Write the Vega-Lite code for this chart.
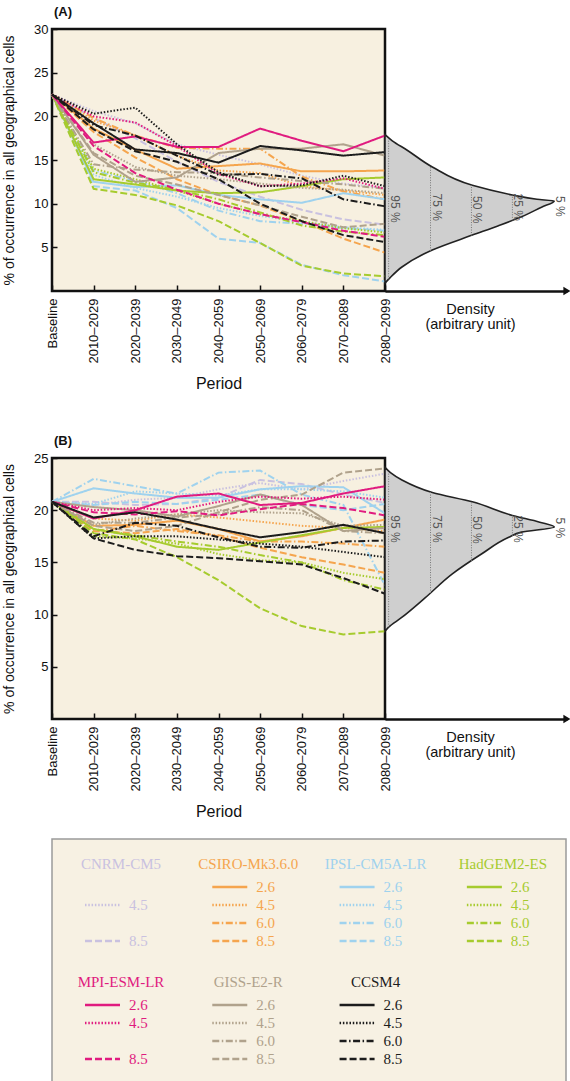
{
"$schema":"https://vega.github.io/schema/vega-lite/v6.json",
"padding":{"left":0,"top":4,"right":0,"bottom":0},
"background":"white",
"config":{"font":"Liberation Sans","axis":{"labelFont":"Liberation Sans","titleFont":"Liberation Sans","labelColor":"#111","titleColor":"#111","grid":false},"title":{"font":"Liberation Sans","color":"#111"}},
"datasets":{
"seriesA":[
{"model":"CNRM-CM5","rcp":"4.5","period":"Baseline","pct":22.5},{"model":"CNRM-CM5","rcp":"4.5","period":"2010–2029","pct":20.6},{"model":"CNRM-CM5","rcp":"4.5","period":"2020–2039","pct":19.2},{"model":"CNRM-CM5","rcp":"4.5","period":"2030–2049","pct":16.8},{"model":"CNRM-CM5","rcp":"4.5","period":"2040–2059","pct":15.6},{"model":"CNRM-CM5","rcp":"4.5","period":"2050–2069","pct":14.5},{"model":"CNRM-CM5","rcp":"4.5","period":"2060–2079","pct":13.2},{"model":"CNRM-CM5","rcp":"4.5","period":"2070–2089","pct":12.3},{"model":"CNRM-CM5","rcp":"4.5","period":"2080–2099","pct":11.8},
{"model":"CNRM-CM5","rcp":"8.5","period":"Baseline","pct":22.5},{"model":"CNRM-CM5","rcp":"8.5","period":"2010–2029","pct":19.8},{"model":"CNRM-CM5","rcp":"8.5","period":"2020–2039","pct":17.5},{"model":"CNRM-CM5","rcp":"8.5","period":"2030–2049","pct":14.8},{"model":"CNRM-CM5","rcp":"8.5","period":"2040–2059","pct":12.5},{"model":"CNRM-CM5","rcp":"8.5","period":"2050–2069","pct":10.8},{"model":"CNRM-CM5","rcp":"8.5","period":"2060–2079","pct":9.3},{"model":"CNRM-CM5","rcp":"8.5","period":"2070–2089","pct":8.2},{"model":"CNRM-CM5","rcp":"8.5","period":"2080–2099","pct":7.6},
{"model":"CSIRO-Mk3.6.0","rcp":"2.6","period":"Baseline","pct":22.5},{"model":"CSIRO-Mk3.6.0","rcp":"2.6","period":"2010–2029","pct":18.6},{"model":"CSIRO-Mk3.6.0","rcp":"2.6","period":"2020–2039","pct":16.2},{"model":"CSIRO-Mk3.6.0","rcp":"2.6","period":"2030–2049","pct":14.0},{"model":"CSIRO-Mk3.6.0","rcp":"2.6","period":"2040–2059","pct":14.3},{"model":"CSIRO-Mk3.6.0","rcp":"2.6","period":"2050–2069","pct":14.6},{"model":"CSIRO-Mk3.6.0","rcp":"2.6","period":"2060–2079","pct":13.7},{"model":"CSIRO-Mk3.6.0","rcp":"2.6","period":"2070–2089","pct":13.7},{"model":"CSIRO-Mk3.6.0","rcp":"2.6","period":"2080–2099","pct":13.8},
{"model":"CSIRO-Mk3.6.0","rcp":"4.5","period":"Baseline","pct":22.5},{"model":"CSIRO-Mk3.6.0","rcp":"4.5","period":"2010–2029","pct":19.5},{"model":"CSIRO-Mk3.6.0","rcp":"4.5","period":"2020–2039","pct":17.8},{"model":"CSIRO-Mk3.6.0","rcp":"4.5","period":"2030–2049","pct":15.5},{"model":"CSIRO-Mk3.6.0","rcp":"4.5","period":"2040–2059","pct":13.8},{"model":"CSIRO-Mk3.6.0","rcp":"4.5","period":"2050–2069","pct":13.5},{"model":"CSIRO-Mk3.6.0","rcp":"4.5","period":"2060–2079","pct":12.0},{"model":"CSIRO-Mk3.6.0","rcp":"4.5","period":"2070–2089","pct":11.5},{"model":"CSIRO-Mk3.6.0","rcp":"4.5","period":"2080–2099","pct":11.0},
{"model":"CSIRO-Mk3.6.0","rcp":"6.0","period":"Baseline","pct":22.5},{"model":"CSIRO-Mk3.6.0","rcp":"6.0","period":"2010–2029","pct":19.8},{"model":"CSIRO-Mk3.6.0","rcp":"6.0","period":"2020–2039","pct":17.8},{"model":"CSIRO-Mk3.6.0","rcp":"6.0","period":"2030–2049","pct":16.4},{"model":"CSIRO-Mk3.6.0","rcp":"6.0","period":"2040–2059","pct":16.3},{"model":"CSIRO-Mk3.6.0","rcp":"6.0","period":"2050–2069","pct":16.3},{"model":"CSIRO-Mk3.6.0","rcp":"6.0","period":"2060–2079","pct":13.1},{"model":"CSIRO-Mk3.6.0","rcp":"6.0","period":"2070–2089","pct":11.4},{"model":"CSIRO-Mk3.6.0","rcp":"6.0","period":"2080–2099","pct":10.5},
{"model":"CSIRO-Mk3.6.0","rcp":"8.5","period":"Baseline","pct":22.5},{"model":"CSIRO-Mk3.6.0","rcp":"8.5","period":"2010–2029","pct":18.2},{"model":"CSIRO-Mk3.6.0","rcp":"8.5","period":"2020–2039","pct":15.3},{"model":"CSIRO-Mk3.6.0","rcp":"8.5","period":"2030–2049","pct":12.8},{"model":"CSIRO-Mk3.6.0","rcp":"8.5","period":"2040–2059","pct":11.0},{"model":"CSIRO-Mk3.6.0","rcp":"8.5","period":"2050–2069","pct":9.8},{"model":"CSIRO-Mk3.6.0","rcp":"8.5","period":"2060–2079","pct":8.0},{"model":"CSIRO-Mk3.6.0","rcp":"8.5","period":"2070–2089","pct":6.0},{"model":"CSIRO-Mk3.6.0","rcp":"8.5","period":"2080–2099","pct":4.4},
{"model":"IPSL-CM5A-LR","rcp":"2.6","period":"Baseline","pct":22.5},{"model":"IPSL-CM5A-LR","rcp":"2.6","period":"2010–2029","pct":12.5},{"model":"IPSL-CM5A-LR","rcp":"2.6","period":"2020–2039","pct":11.9},{"model":"IPSL-CM5A-LR","rcp":"2.6","period":"2030–2049","pct":12.1},{"model":"IPSL-CM5A-LR","rcp":"2.6","period":"2040–2059","pct":11.0},{"model":"IPSL-CM5A-LR","rcp":"2.6","period":"2050–2069","pct":10.5},{"model":"IPSL-CM5A-LR","rcp":"2.6","period":"2060–2079","pct":10.1},{"model":"IPSL-CM5A-LR","rcp":"2.6","period":"2070–2089","pct":11.2},{"model":"IPSL-CM5A-LR","rcp":"2.6","period":"2080–2099","pct":10.5},
{"model":"IPSL-CM5A-LR","rcp":"4.5","period":"Baseline","pct":22.5},{"model":"IPSL-CM5A-LR","rcp":"4.5","period":"2010–2029","pct":13.3},{"model":"IPSL-CM5A-LR","rcp":"4.5","period":"2020–2039","pct":11.8},{"model":"IPSL-CM5A-LR","rcp":"4.5","period":"2030–2049","pct":10.8},{"model":"IPSL-CM5A-LR","rcp":"4.5","period":"2040–2059","pct":9.5},{"model":"IPSL-CM5A-LR","rcp":"4.5","period":"2050–2069","pct":8.6},{"model":"IPSL-CM5A-LR","rcp":"4.5","period":"2060–2079","pct":7.9},{"model":"IPSL-CM5A-LR","rcp":"4.5","period":"2070–2089","pct":7.3},{"model":"IPSL-CM5A-LR","rcp":"4.5","period":"2080–2099","pct":7.0},
{"model":"IPSL-CM5A-LR","rcp":"6.0","period":"Baseline","pct":22.5},{"model":"IPSL-CM5A-LR","rcp":"6.0","period":"2010–2029","pct":13.8},{"model":"IPSL-CM5A-LR","rcp":"6.0","period":"2020–2039","pct":12.6},{"model":"IPSL-CM5A-LR","rcp":"6.0","period":"2030–2049","pct":11.2},{"model":"IPSL-CM5A-LR","rcp":"6.0","period":"2040–2059","pct":9.2},{"model":"IPSL-CM5A-LR","rcp":"6.0","period":"2050–2069","pct":8.0},{"model":"IPSL-CM5A-LR","rcp":"6.0","period":"2060–2079","pct":7.7},{"model":"IPSL-CM5A-LR","rcp":"6.0","period":"2070–2089","pct":7.2},{"model":"IPSL-CM5A-LR","rcp":"6.0","period":"2080–2099","pct":6.9},
{"model":"IPSL-CM5A-LR","rcp":"8.5","period":"Baseline","pct":22.5},{"model":"IPSL-CM5A-LR","rcp":"8.5","period":"2010–2029","pct":12.0},{"model":"IPSL-CM5A-LR","rcp":"8.5","period":"2020–2039","pct":11.5},{"model":"IPSL-CM5A-LR","rcp":"8.5","period":"2030–2049","pct":9.5},{"model":"IPSL-CM5A-LR","rcp":"8.5","period":"2040–2059","pct":6.0},{"model":"IPSL-CM5A-LR","rcp":"8.5","period":"2050–2069","pct":5.5},{"model":"IPSL-CM5A-LR","rcp":"8.5","period":"2060–2079","pct":3.0},{"model":"IPSL-CM5A-LR","rcp":"8.5","period":"2070–2089","pct":1.8},{"model":"IPSL-CM5A-LR","rcp":"8.5","period":"2080–2099","pct":1.1},
{"model":"HadGEM2-ES","rcp":"2.6","period":"Baseline","pct":22.5},{"model":"HadGEM2-ES","rcp":"2.6","period":"2010–2029","pct":12.8},{"model":"HadGEM2-ES","rcp":"2.6","period":"2020–2039","pct":12.2},{"model":"HadGEM2-ES","rcp":"2.6","period":"2030–2049","pct":11.5},{"model":"HadGEM2-ES","rcp":"2.6","period":"2040–2059","pct":11.2},{"model":"HadGEM2-ES","rcp":"2.6","period":"2050–2069","pct":11.3},{"model":"HadGEM2-ES","rcp":"2.6","period":"2060–2079","pct":12.0},{"model":"HadGEM2-ES","rcp":"2.6","period":"2070–2089","pct":12.8},{"model":"HadGEM2-ES","rcp":"2.6","period":"2080–2099","pct":13.0},
{"model":"HadGEM2-ES","rcp":"4.5","period":"Baseline","pct":22.5},{"model":"HadGEM2-ES","rcp":"4.5","period":"2010–2029","pct":14.0},{"model":"HadGEM2-ES","rcp":"4.5","period":"2020–2039","pct":12.8},{"model":"HadGEM2-ES","rcp":"4.5","period":"2030–2049","pct":11.5},{"model":"HadGEM2-ES","rcp":"4.5","period":"2040–2059","pct":10.0},{"model":"HadGEM2-ES","rcp":"4.5","period":"2050–2069","pct":8.8},{"model":"HadGEM2-ES","rcp":"4.5","period":"2060–2079","pct":8.0},{"model":"HadGEM2-ES","rcp":"4.5","period":"2070–2089","pct":7.2},{"model":"HadGEM2-ES","rcp":"4.5","period":"2080–2099","pct":6.7},
{"model":"HadGEM2-ES","rcp":"6.0","period":"Baseline","pct":22.5},{"model":"HadGEM2-ES","rcp":"6.0","period":"2010–2029","pct":13.6},{"model":"HadGEM2-ES","rcp":"6.0","period":"2020–2039","pct":12.4},{"model":"HadGEM2-ES","rcp":"6.0","period":"2030–2049","pct":11.6},{"model":"HadGEM2-ES","rcp":"6.0","period":"2040–2059","pct":10.5},{"model":"HadGEM2-ES","rcp":"6.0","period":"2050–2069","pct":9.0},{"model":"HadGEM2-ES","rcp":"6.0","period":"2060–2079","pct":7.5},{"model":"HadGEM2-ES","rcp":"6.0","period":"2070–2089","pct":6.8},{"model":"HadGEM2-ES","rcp":"6.0","period":"2080–2099","pct":6.4},
{"model":"HadGEM2-ES","rcp":"8.5","period":"Baseline","pct":22.5},{"model":"HadGEM2-ES","rcp":"8.5","period":"2010–2029","pct":11.7},{"model":"HadGEM2-ES","rcp":"8.5","period":"2020–2039","pct":11.0},{"model":"HadGEM2-ES","rcp":"8.5","period":"2030–2049","pct":9.8},{"model":"HadGEM2-ES","rcp":"8.5","period":"2040–2059","pct":8.0},{"model":"HadGEM2-ES","rcp":"8.5","period":"2050–2069","pct":5.5},{"model":"HadGEM2-ES","rcp":"8.5","period":"2060–2079","pct":2.9},{"model":"HadGEM2-ES","rcp":"8.5","period":"2070–2089","pct":2.0},{"model":"HadGEM2-ES","rcp":"8.5","period":"2080–2099","pct":1.7},
{"model":"GISS-E2-R","rcp":"2.6","period":"Baseline","pct":22.5},{"model":"GISS-E2-R","rcp":"2.6","period":"2010–2029","pct":15.6},{"model":"GISS-E2-R","rcp":"2.6","period":"2020–2039","pct":12.5},{"model":"GISS-E2-R","rcp":"2.6","period":"2030–2049","pct":13.0},{"model":"GISS-E2-R","rcp":"2.6","period":"2040–2059","pct":15.8},{"model":"GISS-E2-R","rcp":"2.6","period":"2050–2069","pct":16.3},{"model":"GISS-E2-R","rcp":"2.6","period":"2060–2079","pct":16.3},{"model":"GISS-E2-R","rcp":"2.6","period":"2070–2089","pct":16.8},{"model":"GISS-E2-R","rcp":"2.6","period":"2080–2099","pct":15.5},
{"model":"GISS-E2-R","rcp":"4.5","period":"Baseline","pct":22.5},{"model":"GISS-E2-R","rcp":"4.5","period":"2010–2029","pct":16.8},{"model":"GISS-E2-R","rcp":"4.5","period":"2020–2039","pct":14.2},{"model":"GISS-E2-R","rcp":"4.5","period":"2030–2049","pct":13.2},{"model":"GISS-E2-R","rcp":"4.5","period":"2040–2059","pct":12.8},{"model":"GISS-E2-R","rcp":"4.5","period":"2050–2069","pct":12.3},{"model":"GISS-E2-R","rcp":"4.5","period":"2060–2079","pct":11.8},{"model":"GISS-E2-R","rcp":"4.5","period":"2070–2089","pct":11.6},{"model":"GISS-E2-R","rcp":"4.5","period":"2080–2099","pct":11.2},
{"model":"GISS-E2-R","rcp":"6.0","period":"Baseline","pct":22.5},{"model":"GISS-E2-R","rcp":"6.0","period":"2010–2029","pct":14.5},{"model":"GISS-E2-R","rcp":"6.0","period":"2020–2039","pct":13.9},{"model":"GISS-E2-R","rcp":"6.0","period":"2030–2049","pct":13.6},{"model":"GISS-E2-R","rcp":"6.0","period":"2040–2059","pct":13.5},{"model":"GISS-E2-R","rcp":"6.0","period":"2050–2069","pct":13.0},{"model":"GISS-E2-R","rcp":"6.0","period":"2060–2079","pct":12.6},{"model":"GISS-E2-R","rcp":"6.0","period":"2070–2089","pct":12.2},{"model":"GISS-E2-R","rcp":"6.0","period":"2080–2099","pct":11.7},
{"model":"GISS-E2-R","rcp":"8.5","period":"Baseline","pct":22.5},{"model":"GISS-E2-R","rcp":"8.5","period":"2010–2029","pct":15.8},{"model":"GISS-E2-R","rcp":"8.5","period":"2020–2039","pct":13.2},{"model":"GISS-E2-R","rcp":"8.5","period":"2030–2049","pct":12.2},{"model":"GISS-E2-R","rcp":"8.5","period":"2040–2059","pct":11.0},{"model":"GISS-E2-R","rcp":"8.5","period":"2050–2069","pct":9.8},{"model":"GISS-E2-R","rcp":"8.5","period":"2060–2079","pct":8.5},{"model":"GISS-E2-R","rcp":"8.5","period":"2070–2089","pct":7.3},{"model":"GISS-E2-R","rcp":"8.5","period":"2080–2099","pct":7.7},
{"model":"MPI-ESM-LR","rcp":"2.6","period":"Baseline","pct":22.5},{"model":"MPI-ESM-LR","rcp":"2.6","period":"2010–2029","pct":17.0},{"model":"MPI-ESM-LR","rcp":"2.6","period":"2020–2039","pct":17.7},{"model":"MPI-ESM-LR","rcp":"2.6","period":"2030–2049","pct":16.5},{"model":"MPI-ESM-LR","rcp":"2.6","period":"2040–2059","pct":16.5},{"model":"MPI-ESM-LR","rcp":"2.6","period":"2050–2069","pct":18.6},{"model":"MPI-ESM-LR","rcp":"2.6","period":"2060–2079","pct":17.2},{"model":"MPI-ESM-LR","rcp":"2.6","period":"2070–2089","pct":16.0},{"model":"MPI-ESM-LR","rcp":"2.6","period":"2080–2099","pct":17.8},
{"model":"MPI-ESM-LR","rcp":"4.5","period":"Baseline","pct":22.5},{"model":"MPI-ESM-LR","rcp":"4.5","period":"2010–2029","pct":20.0},{"model":"MPI-ESM-LR","rcp":"4.5","period":"2020–2039","pct":19.3},{"model":"MPI-ESM-LR","rcp":"4.5","period":"2030–2049","pct":16.6},{"model":"MPI-ESM-LR","rcp":"4.5","period":"2040–2059","pct":13.4},{"model":"MPI-ESM-LR","rcp":"4.5","period":"2050–2069","pct":12.0},{"model":"MPI-ESM-LR","rcp":"4.5","period":"2060–2079","pct":12.3},{"model":"MPI-ESM-LR","rcp":"4.5","period":"2070–2089","pct":12.9},{"model":"MPI-ESM-LR","rcp":"4.5","period":"2080–2099","pct":11.7},
{"model":"MPI-ESM-LR","rcp":"8.5","period":"Baseline","pct":22.5},{"model":"MPI-ESM-LR","rcp":"8.5","period":"2010–2029","pct":16.6},{"model":"MPI-ESM-LR","rcp":"8.5","period":"2020–2039","pct":13.5},{"model":"MPI-ESM-LR","rcp":"8.5","period":"2030–2049","pct":11.6},{"model":"MPI-ESM-LR","rcp":"8.5","period":"2040–2059","pct":10.0},{"model":"MPI-ESM-LR","rcp":"8.5","period":"2050–2069","pct":8.8},{"model":"MPI-ESM-LR","rcp":"8.5","period":"2060–2079","pct":7.9},{"model":"MPI-ESM-LR","rcp":"8.5","period":"2070–2089","pct":6.9},{"model":"MPI-ESM-LR","rcp":"8.5","period":"2080–2099","pct":6.2},
{"model":"CCSM4","rcp":"2.6","period":"Baseline","pct":22.5},{"model":"CCSM4","rcp":"2.6","period":"2010–2029","pct":19.2},{"model":"CCSM4","rcp":"2.6","period":"2020–2039","pct":16.2},{"model":"CCSM4","rcp":"2.6","period":"2030–2049","pct":15.8},{"model":"CCSM4","rcp":"2.6","period":"2040–2059","pct":14.7},{"model":"CCSM4","rcp":"2.6","period":"2050–2069","pct":16.6},{"model":"CCSM4","rcp":"2.6","period":"2060–2079","pct":16.1},{"model":"CCSM4","rcp":"2.6","period":"2070–2089","pct":15.5},{"model":"CCSM4","rcp":"2.6","period":"2080–2099","pct":15.9},
{"model":"CCSM4","rcp":"4.5","period":"Baseline","pct":22.5},{"model":"CCSM4","rcp":"4.5","period":"2010–2029","pct":20.3},{"model":"CCSM4","rcp":"4.5","period":"2020–2039","pct":21.0},{"model":"CCSM4","rcp":"4.5","period":"2030–2049","pct":16.8},{"model":"CCSM4","rcp":"4.5","period":"2040–2059","pct":13.6},{"model":"CCSM4","rcp":"4.5","period":"2050–2069","pct":12.0},{"model":"CCSM4","rcp":"4.5","period":"2060–2079","pct":12.1},{"model":"CCSM4","rcp":"4.5","period":"2070–2089","pct":13.2},{"model":"CCSM4","rcp":"4.5","period":"2080–2099","pct":12.0},
{"model":"CCSM4","rcp":"6.0","period":"Baseline","pct":22.5},{"model":"CCSM4","rcp":"6.0","period":"2010–2029","pct":19.0},{"model":"CCSM4","rcp":"6.0","period":"2020–2039","pct":17.8},{"model":"CCSM4","rcp":"6.0","period":"2030–2049","pct":15.5},{"model":"CCSM4","rcp":"6.0","period":"2040–2059","pct":13.3},{"model":"CCSM4","rcp":"6.0","period":"2050–2069","pct":13.4},{"model":"CCSM4","rcp":"6.0","period":"2060–2079","pct":12.9},{"model":"CCSM4","rcp":"6.0","period":"2070–2089","pct":10.5},{"model":"CCSM4","rcp":"6.0","period":"2080–2099","pct":9.7},
{"model":"CCSM4","rcp":"8.5","period":"Baseline","pct":22.5},{"model":"CCSM4","rcp":"8.5","period":"2010–2029","pct":18.5},{"model":"CCSM4","rcp":"8.5","period":"2020–2039","pct":16.0},{"model":"CCSM4","rcp":"8.5","period":"2030–2049","pct":14.8},{"model":"CCSM4","rcp":"8.5","period":"2040–2059","pct":12.8},{"model":"CCSM4","rcp":"8.5","period":"2050–2069","pct":10.0},{"model":"CCSM4","rcp":"8.5","period":"2060–2079","pct":8.0},{"model":"CCSM4","rcp":"8.5","period":"2070–2089","pct":6.4},{"model":"CCSM4","rcp":"8.5","period":"2080–2099","pct":5.6}
],
"seriesB":[
{"model":"CNRM-CM5","rcp":"4.5","period":"Baseline","pct":20.8},{"model":"CNRM-CM5","rcp":"4.5","period":"2010–2029","pct":20.5},{"model":"CNRM-CM5","rcp":"4.5","period":"2020–2039","pct":21.0},{"model":"CNRM-CM5","rcp":"4.5","period":"2030–2049","pct":21.2},{"model":"CNRM-CM5","rcp":"4.5","period":"2040–2059","pct":22.0},{"model":"CNRM-CM5","rcp":"4.5","period":"2050–2069","pct":22.6},{"model":"CNRM-CM5","rcp":"4.5","period":"2060–2079","pct":22.0},{"model":"CNRM-CM5","rcp":"4.5","period":"2070–2089","pct":22.8},{"model":"CNRM-CM5","rcp":"4.5","period":"2080–2099","pct":23.5},
{"model":"CNRM-CM5","rcp":"8.5","period":"Baseline","pct":20.8},{"model":"CNRM-CM5","rcp":"8.5","period":"2010–2029","pct":20.8},{"model":"CNRM-CM5","rcp":"8.5","period":"2020–2039","pct":20.5},{"model":"CNRM-CM5","rcp":"8.5","period":"2030–2049","pct":20.6},{"model":"CNRM-CM5","rcp":"8.5","period":"2040–2059","pct":21.2},{"model":"CNRM-CM5","rcp":"8.5","period":"2050–2069","pct":22.9},{"model":"CNRM-CM5","rcp":"8.5","period":"2060–2079","pct":22.5},{"model":"CNRM-CM5","rcp":"8.5","period":"2070–2089","pct":21.5},{"model":"CNRM-CM5","rcp":"8.5","period":"2080–2099","pct":20.7},
{"model":"CSIRO-Mk3.6.0","rcp":"2.6","period":"Baseline","pct":20.8},{"model":"CSIRO-Mk3.6.0","rcp":"2.6","period":"2010–2029","pct":18.5},{"model":"CSIRO-Mk3.6.0","rcp":"2.6","period":"2020–2039","pct":18.6},{"model":"CSIRO-Mk3.6.0","rcp":"2.6","period":"2030–2049","pct":19.0},{"model":"CSIRO-Mk3.6.0","rcp":"2.6","period":"2040–2059","pct":18.2},{"model":"CSIRO-Mk3.6.0","rcp":"2.6","period":"2050–2069","pct":17.0},{"model":"CSIRO-Mk3.6.0","rcp":"2.6","period":"2060–2079","pct":17.5},{"model":"CSIRO-Mk3.6.0","rcp":"2.6","period":"2070–2089","pct":18.3},{"model":"CSIRO-Mk3.6.0","rcp":"2.6","period":"2080–2099","pct":19.1},
{"model":"CSIRO-Mk3.6.0","rcp":"4.5","period":"Baseline","pct":20.8},{"model":"CSIRO-Mk3.6.0","rcp":"4.5","period":"2010–2029","pct":19.2},{"model":"CSIRO-Mk3.6.0","rcp":"4.5","period":"2020–2039","pct":19.0},{"model":"CSIRO-Mk3.6.0","rcp":"4.5","period":"2030–2049","pct":19.6},{"model":"CSIRO-Mk3.6.0","rcp":"4.5","period":"2040–2059","pct":19.3},{"model":"CSIRO-Mk3.6.0","rcp":"4.5","period":"2050–2069","pct":18.9},{"model":"CSIRO-Mk3.6.0","rcp":"4.5","period":"2060–2079","pct":18.5},{"model":"CSIRO-Mk3.6.0","rcp":"4.5","period":"2070–2089","pct":18.3},{"model":"CSIRO-Mk3.6.0","rcp":"4.5","period":"2080–2099","pct":18.0},
{"model":"CSIRO-Mk3.6.0","rcp":"6.0","period":"Baseline","pct":20.8},{"model":"CSIRO-Mk3.6.0","rcp":"6.0","period":"2010–2029","pct":18.0},{"model":"CSIRO-Mk3.6.0","rcp":"6.0","period":"2020–2039","pct":18.5},{"model":"CSIRO-Mk3.6.0","rcp":"6.0","period":"2030–2049","pct":18.0},{"model":"CSIRO-Mk3.6.0","rcp":"6.0","period":"2040–2059","pct":17.6},{"model":"CSIRO-Mk3.6.0","rcp":"6.0","period":"2050–2069","pct":17.0},{"model":"CSIRO-Mk3.6.0","rcp":"6.0","period":"2060–2079","pct":17.0},{"model":"CSIRO-Mk3.6.0","rcp":"6.0","period":"2070–2089","pct":16.8},{"model":"CSIRO-Mk3.6.0","rcp":"6.0","period":"2080–2099","pct":16.5},
{"model":"CSIRO-Mk3.6.0","rcp":"8.5","period":"Baseline","pct":20.8},{"model":"CSIRO-Mk3.6.0","rcp":"8.5","period":"2010–2029","pct":18.0},{"model":"CSIRO-Mk3.6.0","rcp":"8.5","period":"2020–2039","pct":17.8},{"model":"CSIRO-Mk3.6.0","rcp":"8.5","period":"2030–2049","pct":18.2},{"model":"CSIRO-Mk3.6.0","rcp":"8.5","period":"2040–2059","pct":17.5},{"model":"CSIRO-Mk3.6.0","rcp":"8.5","period":"2050–2069","pct":16.4},{"model":"CSIRO-Mk3.6.0","rcp":"8.5","period":"2060–2079","pct":15.5},{"model":"CSIRO-Mk3.6.0","rcp":"8.5","period":"2070–2089","pct":14.8},{"model":"CSIRO-Mk3.6.0","rcp":"8.5","period":"2080–2099","pct":14.0},
{"model":"IPSL-CM5A-LR","rcp":"2.6","period":"Baseline","pct":20.8},{"model":"IPSL-CM5A-LR","rcp":"2.6","period":"2010–2029","pct":22.1},{"model":"IPSL-CM5A-LR","rcp":"2.6","period":"2020–2039","pct":21.6},{"model":"IPSL-CM5A-LR","rcp":"2.6","period":"2030–2049","pct":21.2},{"model":"IPSL-CM5A-LR","rcp":"2.6","period":"2040–2059","pct":21.2},{"model":"IPSL-CM5A-LR","rcp":"2.6","period":"2050–2069","pct":22.0},{"model":"IPSL-CM5A-LR","rcp":"2.6","period":"2060–2079","pct":22.3},{"model":"IPSL-CM5A-LR","rcp":"2.6","period":"2070–2089","pct":22.2},{"model":"IPSL-CM5A-LR","rcp":"2.6","period":"2080–2099","pct":19.7},
{"model":"IPSL-CM5A-LR","rcp":"4.5","period":"Baseline","pct":20.8},{"model":"IPSL-CM5A-LR","rcp":"4.5","period":"2010–2029","pct":20.6},{"model":"IPSL-CM5A-LR","rcp":"4.5","period":"2020–2039","pct":21.8},{"model":"IPSL-CM5A-LR","rcp":"4.5","period":"2030–2049","pct":21.6},{"model":"IPSL-CM5A-LR","rcp":"4.5","period":"2040–2059","pct":21.4},{"model":"IPSL-CM5A-LR","rcp":"4.5","period":"2050–2069","pct":22.0},{"model":"IPSL-CM5A-LR","rcp":"4.5","period":"2060–2079","pct":22.0},{"model":"IPSL-CM5A-LR","rcp":"4.5","period":"2070–2089","pct":21.8},{"model":"IPSL-CM5A-LR","rcp":"4.5","period":"2080–2099","pct":21.2},
{"model":"IPSL-CM5A-LR","rcp":"6.0","period":"Baseline","pct":20.8},{"model":"IPSL-CM5A-LR","rcp":"6.0","period":"2010–2029","pct":23.0},{"model":"IPSL-CM5A-LR","rcp":"6.0","period":"2020–2039","pct":22.3},{"model":"IPSL-CM5A-LR","rcp":"6.0","period":"2030–2049","pct":21.6},{"model":"IPSL-CM5A-LR","rcp":"6.0","period":"2040–2059","pct":23.6},{"model":"IPSL-CM5A-LR","rcp":"6.0","period":"2050–2069","pct":23.8},{"model":"IPSL-CM5A-LR","rcp":"6.0","period":"2060–2079","pct":21.5},{"model":"IPSL-CM5A-LR","rcp":"6.0","period":"2070–2089","pct":20.5},{"model":"IPSL-CM5A-LR","rcp":"6.0","period":"2080–2099","pct":12.8},
{"model":"IPSL-CM5A-LR","rcp":"8.5","period":"Baseline","pct":20.8},{"model":"IPSL-CM5A-LR","rcp":"8.5","period":"2010–2029","pct":20.5},{"model":"IPSL-CM5A-LR","rcp":"8.5","period":"2020–2039","pct":20.8},{"model":"IPSL-CM5A-LR","rcp":"8.5","period":"2030–2049","pct":20.6},{"model":"IPSL-CM5A-LR","rcp":"8.5","period":"2040–2059","pct":21.0},{"model":"IPSL-CM5A-LR","rcp":"8.5","period":"2050–2069","pct":21.5},{"model":"IPSL-CM5A-LR","rcp":"8.5","period":"2060–2079","pct":20.5},{"model":"IPSL-CM5A-LR","rcp":"8.5","period":"2070–2089","pct":20.0},{"model":"IPSL-CM5A-LR","rcp":"8.5","period":"2080–2099","pct":20.6},
{"model":"HadGEM2-ES","rcp":"2.6","period":"Baseline","pct":20.8},{"model":"HadGEM2-ES","rcp":"2.6","period":"2010–2029","pct":18.2},{"model":"HadGEM2-ES","rcp":"2.6","period":"2020–2039","pct":17.5},{"model":"HadGEM2-ES","rcp":"2.6","period":"2030–2049","pct":16.5},{"model":"HadGEM2-ES","rcp":"2.6","period":"2040–2059","pct":16.2},{"model":"HadGEM2-ES","rcp":"2.6","period":"2050–2069","pct":16.9},{"model":"HadGEM2-ES","rcp":"2.6","period":"2060–2079","pct":17.6},{"model":"HadGEM2-ES","rcp":"2.6","period":"2070–2089","pct":18.3},{"model":"HadGEM2-ES","rcp":"2.6","period":"2080–2099","pct":18.4},
{"model":"HadGEM2-ES","rcp":"4.5","period":"Baseline","pct":20.8},{"model":"HadGEM2-ES","rcp":"4.5","period":"2010–2029","pct":17.5},{"model":"HadGEM2-ES","rcp":"4.5","period":"2020–2039","pct":17.3},{"model":"HadGEM2-ES","rcp":"4.5","period":"2030–2049","pct":16.8},{"model":"HadGEM2-ES","rcp":"4.5","period":"2040–2059","pct":15.8},{"model":"HadGEM2-ES","rcp":"4.5","period":"2050–2069","pct":15.2},{"model":"HadGEM2-ES","rcp":"4.5","period":"2060–2079","pct":15.0},{"model":"HadGEM2-ES","rcp":"4.5","period":"2070–2089","pct":14.0},{"model":"HadGEM2-ES","rcp":"4.5","period":"2080–2099","pct":13.4},
{"model":"HadGEM2-ES","rcp":"6.0","period":"Baseline","pct":20.8},{"model":"HadGEM2-ES","rcp":"6.0","period":"2010–2029","pct":18.2},{"model":"HadGEM2-ES","rcp":"6.0","period":"2020–2039","pct":17.6},{"model":"HadGEM2-ES","rcp":"6.0","period":"2030–2049","pct":17.0},{"model":"HadGEM2-ES","rcp":"6.0","period":"2040–2059","pct":16.5},{"model":"HadGEM2-ES","rcp":"6.0","period":"2050–2069","pct":15.7},{"model":"HadGEM2-ES","rcp":"6.0","period":"2060–2079","pct":15.0},{"model":"HadGEM2-ES","rcp":"6.0","period":"2070–2089","pct":13.3},{"model":"HadGEM2-ES","rcp":"6.0","period":"2080–2099","pct":12.4},
{"model":"HadGEM2-ES","rcp":"8.5","period":"Baseline","pct":20.8},{"model":"HadGEM2-ES","rcp":"8.5","period":"2010–2029","pct":17.8},{"model":"HadGEM2-ES","rcp":"8.5","period":"2020–2039","pct":17.2},{"model":"HadGEM2-ES","rcp":"8.5","period":"2030–2049","pct":15.5},{"model":"HadGEM2-ES","rcp":"8.5","period":"2040–2059","pct":13.3},{"model":"HadGEM2-ES","rcp":"8.5","period":"2050–2069","pct":10.6},{"model":"HadGEM2-ES","rcp":"8.5","period":"2060–2079","pct":8.9},{"model":"HadGEM2-ES","rcp":"8.5","period":"2070–2089","pct":8.1},{"model":"HadGEM2-ES","rcp":"8.5","period":"2080–2099","pct":8.4},
{"model":"GISS-E2-R","rcp":"2.6","period":"Baseline","pct":20.8},{"model":"GISS-E2-R","rcp":"2.6","period":"2010–2029","pct":20.3},{"model":"GISS-E2-R","rcp":"2.6","period":"2020–2039","pct":20.0},{"model":"GISS-E2-R","rcp":"2.6","period":"2030–2049","pct":19.4},{"model":"GISS-E2-R","rcp":"2.6","period":"2040–2059","pct":20.4},{"model":"GISS-E2-R","rcp":"2.6","period":"2050–2069","pct":21.5},{"model":"GISS-E2-R","rcp":"2.6","period":"2060–2079","pct":20.5},{"model":"GISS-E2-R","rcp":"2.6","period":"2070–2089","pct":18.0},{"model":"GISS-E2-R","rcp":"2.6","period":"2080–2099","pct":18.3},
{"model":"GISS-E2-R","rcp":"4.5","period":"Baseline","pct":20.8},{"model":"GISS-E2-R","rcp":"4.5","period":"2010–2029","pct":18.6},{"model":"GISS-E2-R","rcp":"4.5","period":"2020–2039","pct":19.2},{"model":"GISS-E2-R","rcp":"4.5","period":"2030–2049","pct":19.6},{"model":"GISS-E2-R","rcp":"4.5","period":"2040–2059","pct":20.0},{"model":"GISS-E2-R","rcp":"4.5","period":"2050–2069","pct":19.8},{"model":"GISS-E2-R","rcp":"4.5","period":"2060–2079","pct":19.7},{"model":"GISS-E2-R","rcp":"4.5","period":"2070–2089","pct":18.5},{"model":"GISS-E2-R","rcp":"4.5","period":"2080–2099","pct":18.6},
{"model":"GISS-E2-R","rcp":"6.0","period":"Baseline","pct":20.8},{"model":"GISS-E2-R","rcp":"6.0","period":"2010–2029","pct":18.8},{"model":"GISS-E2-R","rcp":"6.0","period":"2020–2039","pct":18.8},{"model":"GISS-E2-R","rcp":"6.0","period":"2030–2049","pct":19.3},{"model":"GISS-E2-R","rcp":"6.0","period":"2040–2059","pct":19.6},{"model":"GISS-E2-R","rcp":"6.0","period":"2050–2069","pct":20.3},{"model":"GISS-E2-R","rcp":"6.0","period":"2060–2079","pct":20.0},{"model":"GISS-E2-R","rcp":"6.0","period":"2070–2089","pct":18.0},{"model":"GISS-E2-R","rcp":"6.0","period":"2080–2099","pct":17.8},
{"model":"GISS-E2-R","rcp":"8.5","period":"Baseline","pct":20.8},{"model":"GISS-E2-R","rcp":"8.5","period":"2010–2029","pct":18.5},{"model":"GISS-E2-R","rcp":"8.5","period":"2020–2039","pct":18.0},{"model":"GISS-E2-R","rcp":"8.5","period":"2030–2049","pct":18.5},{"model":"GISS-E2-R","rcp":"8.5","period":"2040–2059","pct":19.8},{"model":"GISS-E2-R","rcp":"8.5","period":"2050–2069","pct":21.0},{"model":"GISS-E2-R","rcp":"8.5","period":"2060–2079","pct":21.5},{"model":"GISS-E2-R","rcp":"8.5","period":"2070–2089","pct":23.6},{"model":"GISS-E2-R","rcp":"8.5","period":"2080–2099","pct":24.0},
{"model":"MPI-ESM-LR","rcp":"2.6","period":"Baseline","pct":20.8},{"model":"MPI-ESM-LR","rcp":"2.6","period":"2010–2029","pct":19.2},{"model":"MPI-ESM-LR","rcp":"2.6","period":"2020–2039","pct":20.0},{"model":"MPI-ESM-LR","rcp":"2.6","period":"2030–2049","pct":21.3},{"model":"MPI-ESM-LR","rcp":"2.6","period":"2040–2059","pct":21.6},{"model":"MPI-ESM-LR","rcp":"2.6","period":"2050–2069","pct":20.5},{"model":"MPI-ESM-LR","rcp":"2.6","period":"2060–2079","pct":20.7},{"model":"MPI-ESM-LR","rcp":"2.6","period":"2070–2089","pct":21.6},{"model":"MPI-ESM-LR","rcp":"2.6","period":"2080–2099","pct":22.3},
{"model":"MPI-ESM-LR","rcp":"4.5","period":"Baseline","pct":20.8},{"model":"MPI-ESM-LR","rcp":"4.5","period":"2010–2029","pct":20.0},{"model":"MPI-ESM-LR","rcp":"4.5","period":"2020–2039","pct":20.2},{"model":"MPI-ESM-LR","rcp":"4.5","period":"2030–2049","pct":20.0},{"model":"MPI-ESM-LR","rcp":"4.5","period":"2040–2059","pct":20.8},{"model":"MPI-ESM-LR","rcp":"4.5","period":"2050–2069","pct":21.3},{"model":"MPI-ESM-LR","rcp":"4.5","period":"2060–2079","pct":21.1},{"model":"MPI-ESM-LR","rcp":"4.5","period":"2070–2089","pct":21.3},{"model":"MPI-ESM-LR","rcp":"4.5","period":"2080–2099","pct":21.0},
{"model":"MPI-ESM-LR","rcp":"8.5","period":"Baseline","pct":20.8},{"model":"MPI-ESM-LR","rcp":"8.5","period":"2010–2029","pct":19.8},{"model":"MPI-ESM-LR","rcp":"8.5","period":"2020–2039","pct":19.6},{"model":"MPI-ESM-LR","rcp":"8.5","period":"2030–2049","pct":19.9},{"model":"MPI-ESM-LR","rcp":"8.5","period":"2040–2059","pct":19.5},{"model":"MPI-ESM-LR","rcp":"8.5","period":"2050–2069","pct":20.1},{"model":"MPI-ESM-LR","rcp":"8.5","period":"2060–2079","pct":20.6},{"model":"MPI-ESM-LR","rcp":"8.5","period":"2070–2089","pct":20.2},{"model":"MPI-ESM-LR","rcp":"8.5","period":"2080–2099","pct":19.5},
{"model":"CCSM4","rcp":"2.6","period":"Baseline","pct":20.8},{"model":"CCSM4","rcp":"2.6","period":"2010–2029","pct":19.3},{"model":"CCSM4","rcp":"2.6","period":"2020–2039","pct":19.8},{"model":"CCSM4","rcp":"2.6","period":"2030–2049","pct":19.1},{"model":"CCSM4","rcp":"2.6","period":"2040–2059","pct":18.2},{"model":"CCSM4","rcp":"2.6","period":"2050–2069","pct":17.4},{"model":"CCSM4","rcp":"2.6","period":"2060–2079","pct":17.9},{"model":"CCSM4","rcp":"2.6","period":"2070–2089","pct":18.6},{"model":"CCSM4","rcp":"2.6","period":"2080–2099","pct":17.8},
{"model":"CCSM4","rcp":"4.5","period":"Baseline","pct":20.8},{"model":"CCSM4","rcp":"4.5","period":"2010–2029","pct":17.3},{"model":"CCSM4","rcp":"4.5","period":"2020–2039","pct":17.5},{"model":"CCSM4","rcp":"4.5","period":"2030–2049","pct":17.5},{"model":"CCSM4","rcp":"4.5","period":"2040–2059","pct":17.2},{"model":"CCSM4","rcp":"4.5","period":"2050–2069","pct":16.8},{"model":"CCSM4","rcp":"4.5","period":"2060–2079","pct":16.5},{"model":"CCSM4","rcp":"4.5","period":"2070–2089","pct":16.0},{"model":"CCSM4","rcp":"4.5","period":"2080–2099","pct":15.5},
{"model":"CCSM4","rcp":"6.0","period":"Baseline","pct":20.8},{"model":"CCSM4","rcp":"6.0","period":"2010–2029","pct":17.5},{"model":"CCSM4","rcp":"6.0","period":"2020–2039","pct":18.8},{"model":"CCSM4","rcp":"6.0","period":"2030–2049","pct":18.5},{"model":"CCSM4","rcp":"6.0","period":"2040–2059","pct":17.4},{"model":"CCSM4","rcp":"6.0","period":"2050–2069","pct":16.5},{"model":"CCSM4","rcp":"6.0","period":"2060–2079","pct":16.4},{"model":"CCSM4","rcp":"6.0","period":"2070–2089","pct":17.0},{"model":"CCSM4","rcp":"6.0","period":"2080–2099","pct":17.1},
{"model":"CCSM4","rcp":"8.5","period":"Baseline","pct":20.8},{"model":"CCSM4","rcp":"8.5","period":"2010–2029","pct":17.3},{"model":"CCSM4","rcp":"8.5","period":"2020–2039","pct":16.2},{"model":"CCSM4","rcp":"8.5","period":"2030–2049","pct":15.6},{"model":"CCSM4","rcp":"8.5","period":"2040–2059","pct":15.4},{"model":"CCSM4","rcp":"8.5","period":"2050–2069","pct":15.1},{"model":"CCSM4","rcp":"8.5","period":"2060–2079","pct":14.8},{"model":"CCSM4","rcp":"8.5","period":"2070–2089","pct":13.5},{"model":"CCSM4","rcp":"8.5","period":"2080–2099","pct":12.0}
],
"densityA":[{"dens":0,"pct":17.9},{"dens":0.04,"pct":17.2},{"dens":0.12,"pct":16.15},{"dens":0.26,"pct":14.2},{"dens":0.48,"pct":12.1},{"dens":0.7,"pct":11.0},{"dens":0.835,"pct":10.5},{"dens":0.93,"pct":10.3},{"dens":0.86,"pct":9.6},{"dens":0.75,"pct":8.5},{"dens":0.62,"pct":7.45},{"dens":0.48,"pct":6.4},{"dens":0.26,"pct":4.7},{"dens":0.093,"pct":2.75},{"dens":0.027,"pct":1.5},{"dens":0,"pct":0.9}],
"densityB":[{"dens":0,"pct":24.1},{"dens":0.03,"pct":23.6},{"dens":0.093,"pct":22.9},{"dens":0.26,"pct":21.7},{"dens":0.48,"pct":20.8},{"dens":0.7,"pct":19.5},{"dens":0.85,"pct":18.85},{"dens":0.93,"pct":18.4},{"dens":0.75,"pct":17.9},{"dens":0.68,"pct":17.4},{"dens":0.53,"pct":15.8},{"dens":0.37,"pct":13.9},{"dens":0.22,"pct":11.6},{"dens":0.09,"pct":9.7},{"dens":0.02,"pct":8.8},{"dens":0,"pct":8.4}],
"quantA":[{"label":"95 %","dens":0.02,"lo":1.35,"hi":17.4,"mode":9.4},{"label":"75 %","dens":0.25,"lo":4.6,"hi":14.3,"mode":9.6},{"label":"50 %","dens":0.475,"lo":6.35,"hi":12.15,"mode":9.3},{"label":"25 %","dens":0.7,"lo":8.1,"hi":11.0,"mode":9.6},{"label":"5 %","dens":0.93,"lo":null,"hi":null,"mode":9.7}],
"quantB":[{"label":"95 %","dens":0.02,"lo":8.8,"hi":23.6,"mode":18.2},{"label":"75 %","dens":0.25,"lo":12.06,"hi":21.77,"mode":18.2},{"label":"50 %","dens":0.475,"lo":15.15,"hi":20.8,"mode":18.1},{"label":"25 %","dens":0.7,"lo":17.55,"hi":19.5,"mode":18.2},{"label":"5 %","dens":0.93,"lo":null,"hi":null,"mode":18.3}],
"legendModels":[{"model":"CNRM-CM5","col":0,"row":1},{"model":"CSIRO-Mk3.6.0","col":1,"row":1},{"model":"IPSL-CM5A-LR","col":2,"row":1},{"model":"HadGEM2-ES","col":3,"row":1},{"model":"MPI-ESM-LR","col":0,"row":2},{"model":"GISS-E2-R","col":1,"row":2},{"model":"CCSM4","col":2,"row":2}],
"legendEntries":[
{"model":"CNRM-CM5","rcp":"4.5","col":0,"row":1},{"model":"CNRM-CM5","rcp":"8.5","col":0,"row":1},
{"model":"CSIRO-Mk3.6.0","rcp":"2.6","col":1,"row":1},{"model":"CSIRO-Mk3.6.0","rcp":"4.5","col":1,"row":1},{"model":"CSIRO-Mk3.6.0","rcp":"6.0","col":1,"row":1},{"model":"CSIRO-Mk3.6.0","rcp":"8.5","col":1,"row":1},
{"model":"IPSL-CM5A-LR","rcp":"2.6","col":2,"row":1},{"model":"IPSL-CM5A-LR","rcp":"4.5","col":2,"row":1},{"model":"IPSL-CM5A-LR","rcp":"6.0","col":2,"row":1},{"model":"IPSL-CM5A-LR","rcp":"8.5","col":2,"row":1},
{"model":"HadGEM2-ES","rcp":"2.6","col":3,"row":1},{"model":"HadGEM2-ES","rcp":"4.5","col":3,"row":1},{"model":"HadGEM2-ES","rcp":"6.0","col":3,"row":1},{"model":"HadGEM2-ES","rcp":"8.5","col":3,"row":1},
{"model":"MPI-ESM-LR","rcp":"2.6","col":0,"row":2},{"model":"MPI-ESM-LR","rcp":"4.5","col":0,"row":2},{"model":"MPI-ESM-LR","rcp":"8.5","col":0,"row":2},
{"model":"GISS-E2-R","rcp":"2.6","col":1,"row":2},{"model":"GISS-E2-R","rcp":"4.5","col":1,"row":2},{"model":"GISS-E2-R","rcp":"6.0","col":1,"row":2},{"model":"GISS-E2-R","rcp":"8.5","col":1,"row":2},
{"model":"CCSM4","rcp":"2.6","col":2,"row":2},{"model":"CCSM4","rcp":"4.5","col":2,"row":2},{"model":"CCSM4","rcp":"6.0","col":2,"row":2},{"model":"CCSM4","rcp":"8.5","col":2,"row":2}
]
},
"spacing":17,
"vconcat":[
{"spacing":40,"vconcat":[
{"hconcat":[
{"width":333,"height":262,
"title":{"text":"(A)","anchor":"start","frame":"group","fontSize":13,"fontWeight":"bold","offset":4,"dx":2},
"view":{"fill":"#f7f0e0","stroke":"#111","strokeWidth":2.5},
"data":{"name":"seriesA"},
"mark":{"type":"line","strokeWidth":2},
"encoding":{
"x":{"field":"period","type":"ordinal","sort":["Baseline","2010–2029","2020–2039","2030–2049","2040–2059","2050–2069","2060–2079","2070–2089","2080–2099"],"scale":{"type":"point","padding":0},"axis":{"title":"Period","titleFontSize":16,"titleFontWeight":"normal","titleY":92,"titleBaseline":"middle","labelAngle":-90,"labelFontSize":13,"labelPadding":13,"tickSize":-6,"tickColor":"#111","tickWidth":1.5,"domain":false}},
"y":{"field":"pct","type":"quantitative","scale":{"domain":[0,30],"nice":false},"axis":{"title":"% of occurrence in all geographical cells","titleFontSize":14,"titleFontWeight":"normal","titleX":-43,"titleBaseline":"middle","values":[5,10,15,20,25,30],"labelFontSize":13,"labelPadding":9,"labelFlush":false,"tickSize":-5,"tickColor":"#111","tickWidth":1.5,"domain":false}},
"color":{"field":"model","type":"nominal","scale":{"domain":["CNRM-CM5","CSIRO-Mk3.6.0","IPSL-CM5A-LR","HadGEM2-ES","MPI-ESM-LR","GISS-E2-R","CCSM4"],"range":["#c9c1e0","#f5a54e","#9fd2ee","#a6cb2e","#e01b7f","#b0a28c","#1c1c1c"]},"legend":null},
"strokeDash":{"field":"rcp","type":"nominal","scale":{"domain":["2.6","4.5","6.0","8.5"],"range":[[1,0],[1.5,1.8],[7,2.5,1.5,2.5],[7,3]]},"legend":null}}},
{"width":182,"height":262,
"view":{"stroke":null,"fill":null},
"layer":[
{"data":{"name":"densityA"},"mark":{"type":"area","orient":"horizontal","interpolate":"monotone","fill":"#cfcfcf","stroke":"#222","strokeWidth":1.6},
"encoding":{"x":{"field":"dens","type":"quantitative","stack":null,"scale":{"domain":[0,1],"nice":false},"axis":{"title":["Density","(arbitrary unit)"],"titleFontSize":14.5,"titleFontWeight":"normal","titleX":85,"titleY":11,"titleBaseline":"top","titleLineHeight":15,"labels":false,"ticks":false,"domain":true,"domainColor":"#111","domainWidth":2.5}},
"y":{"field":"pct","type":"quantitative","scale":{"domain":[0,30],"nice":false},"axis":null}}},
{"data":{"name":"quantA"},"transform":[{"filter":"datum.lo != null"}],"mark":{"type":"rule","stroke":"#777","strokeDash":[1,1.5],"strokeWidth":1},
"encoding":{"x":{"field":"dens","type":"quantitative"},"y":{"field":"lo","type":"quantitative"},"y2":{"field":"hi"}}},
{"data":{"name":"quantA"},"mark":{"type":"text","angle":90,"fontSize":12,"color":"#555","xOffset":6,"align":"center","baseline":"middle"},
"encoding":{"x":{"field":"dens","type":"quantitative"},"y":{"field":"mode","type":"quantitative"},"text":{"field":"label"}}},
{"data":{"values":[{}]},"mark":{"type":"point","shape":"triangle-right","filled":true,"color":"#111","size":70,"opacity":1},
"encoding":{"x":{"datum":1,"type":"quantitative"},"y":{"datum":0,"type":"quantitative"}}}
]}
],"spacing":0,"bounds":"flush"},
{"hconcat":[
{"width":333,"height":261,
"title":{"text":"(B)","anchor":"start","frame":"group","fontSize":13,"fontWeight":"bold","offset":4,"dx":2},
"view":{"fill":"#f7f0e0","stroke":"#111","strokeWidth":2.5},
"data":{"name":"seriesB"},
"mark":{"type":"line","strokeWidth":2},
"encoding":{
"x":{"field":"period","type":"ordinal","sort":["Baseline","2010–2029","2020–2039","2030–2049","2040–2059","2050–2069","2060–2079","2070–2089","2080–2099"],"scale":{"type":"point","padding":0},"axis":{"title":"Period","titleFontSize":16,"titleFontWeight":"normal","titleY":92,"titleBaseline":"middle","labelAngle":-90,"labelFontSize":13,"labelPadding":13,"tickSize":-6,"tickColor":"#111","tickWidth":1.5,"domain":false}},
"y":{"field":"pct","type":"quantitative","scale":{"domain":[0,25],"nice":false},"axis":{"title":"% of occurrence in all geographical cells","titleFontSize":14,"titleFontWeight":"normal","titleX":-43,"titleBaseline":"middle","values":[5,10,15,20,25],"labelFontSize":13,"labelPadding":9,"labelFlush":false,"tickSize":-5,"tickColor":"#111","tickWidth":1.5,"domain":false}},
"color":{"field":"model","type":"nominal","scale":{"domain":["CNRM-CM5","CSIRO-Mk3.6.0","IPSL-CM5A-LR","HadGEM2-ES","MPI-ESM-LR","GISS-E2-R","CCSM4"],"range":["#c9c1e0","#f5a54e","#9fd2ee","#a6cb2e","#e01b7f","#b0a28c","#1c1c1c"]},"legend":null},
"strokeDash":{"field":"rcp","type":"nominal","scale":{"domain":["2.6","4.5","6.0","8.5"],"range":[[1,0],[1.5,1.8],[7,2.5,1.5,2.5],[7,3]]},"legend":null}}},
{"width":182,"height":261,
"view":{"stroke":null,"fill":null},
"layer":[
{"data":{"name":"densityB"},"mark":{"type":"area","orient":"horizontal","interpolate":"monotone","fill":"#cfcfcf","stroke":"#222","strokeWidth":1.6},
"encoding":{"x":{"field":"dens","type":"quantitative","stack":null,"scale":{"domain":[0,1],"nice":false},"axis":{"title":["Density","(arbitrary unit)"],"titleFontSize":14.5,"titleFontWeight":"normal","titleX":85,"titleY":11,"titleBaseline":"top","titleLineHeight":15,"labels":false,"ticks":false,"domain":true,"domainColor":"#111","domainWidth":2.5}},
"y":{"field":"pct","type":"quantitative","scale":{"domain":[0,25],"nice":false},"axis":null}}},
{"data":{"name":"quantB"},"transform":[{"filter":"datum.lo != null"}],"mark":{"type":"rule","stroke":"#777","strokeDash":[1,1.5],"strokeWidth":1},
"encoding":{"x":{"field":"dens","type":"quantitative"},"y":{"field":"lo","type":"quantitative"},"y2":{"field":"hi"}}},
{"data":{"name":"quantB"},"mark":{"type":"text","angle":90,"fontSize":12,"color":"#555","xOffset":6,"align":"center","baseline":"middle"},
"encoding":{"x":{"field":"dens","type":"quantitative"},"y":{"field":"mode","type":"quantitative"},"text":{"field":"label"}}},
{"data":{"values":[{}]},"mark":{"type":"point","shape":"triangle-right","filled":true,"color":"#111","size":70,"opacity":1},
"encoding":{"x":{"datum":1,"type":"quantitative"},"y":{"datum":0,"type":"quantitative"}}}
]}
],"spacing":0,"bounds":"flush"}
]},
{"width":514,"height":244,
"view":{"fill":"#f7f1e3","stroke":"#9a9a9a","strokeWidth":1.5},
"layer":[
{"data":{"name":"legendModels"},"transform":[{"filter":"datum.row == 1"}],"mark":{"type":"text","font":"Liberation Serif","fontSize":15,"align":"center","baseline":"middle","yOffset":-23},
"encoding":{"x":{"field":"col","type":"quantitative","scale":{"domain":[-0.542,3.496],"nice":false,"zero":false},"axis":null},"y":{"datum":"2.6","type":"ordinal","scale":{"type":"point","domain":["2.6","4.5","6.0","8.5"],"range":[48,102],"padding":0},"axis":null},"text":{"field":"model"},"color":{"field":"model","type":"nominal","scale":{"domain":["CNRM-CM5","CSIRO-Mk3.6.0","IPSL-CM5A-LR","HadGEM2-ES","MPI-ESM-LR","GISS-E2-R","CCSM4"],"range":["#c9c1e0","#f5a54e","#9fd2ee","#a6cb2e","#e01b7f","#b0a28c","#1c1c1c"]},"legend":null}}},
{"data":{"name":"legendModels"},"transform":[{"filter":"datum.row == 2"}],"mark":{"type":"text","font":"Liberation Serif","fontSize":15,"align":"center","baseline":"middle","yOffset":95},
"encoding":{"x":{"field":"col","type":"quantitative","axis":null},"y":{"datum":"2.6","type":"ordinal","axis":null},"text":{"field":"model"},"color":{"field":"model","type":"nominal","legend":null}}},
{"data":{"name":"legendEntries"},"transform":[{"filter":"datum.row == 1"}],"mark":{"type":"rule","strokeWidth":2.5,"xOffset":-36,"x2Offset":-1},
"encoding":{"x":{"field":"col","type":"quantitative","axis":null},"x2":{"field":"col"},"y":{"field":"rcp","type":"ordinal","axis":null},"color":{"field":"model","type":"nominal","legend":null},"strokeDash":{"field":"rcp","type":"nominal","scale":{"domain":["2.6","4.5","6.0","8.5"],"range":[[1,0],[1.5,1.8],[7,2.5,1.5,2.5],[7,3]]},"legend":null}}},
{"data":{"name":"legendEntries"},"transform":[{"filter":"datum.row == 2"}],"mark":{"type":"rule","strokeWidth":2.5,"xOffset":-36,"x2Offset":-1,"yOffset":118,"y2Offset":118},
"encoding":{"x":{"field":"col","type":"quantitative","axis":null},"x2":{"field":"col"},"y":{"field":"rcp","type":"ordinal","axis":null},"color":{"field":"model","type":"nominal","legend":null},"strokeDash":{"field":"rcp","type":"nominal","legend":null}}},
{"data":{"name":"legendEntries"},"transform":[{"filter":"datum.row == 1"}],"mark":{"type":"text","font":"Liberation Serif","fontSize":15,"align":"left","baseline":"middle","xOffset":8},
"encoding":{"x":{"field":"col","type":"quantitative","axis":null},"y":{"field":"rcp","type":"ordinal","axis":null},"text":{"field":"rcp"},"color":{"field":"model","type":"nominal","legend":null}}},
{"data":{"name":"legendEntries"},"transform":[{"filter":"datum.row == 2"}],"mark":{"type":"text","font":"Liberation Serif","fontSize":15,"align":"left","baseline":"middle","xOffset":8,"yOffset":118},
"encoding":{"x":{"field":"col","type":"quantitative","axis":null},"y":{"field":"rcp","type":"ordinal","axis":null},"text":{"field":"rcp"},"color":{"field":"model","type":"nominal","legend":null}}}
]}
]
}
